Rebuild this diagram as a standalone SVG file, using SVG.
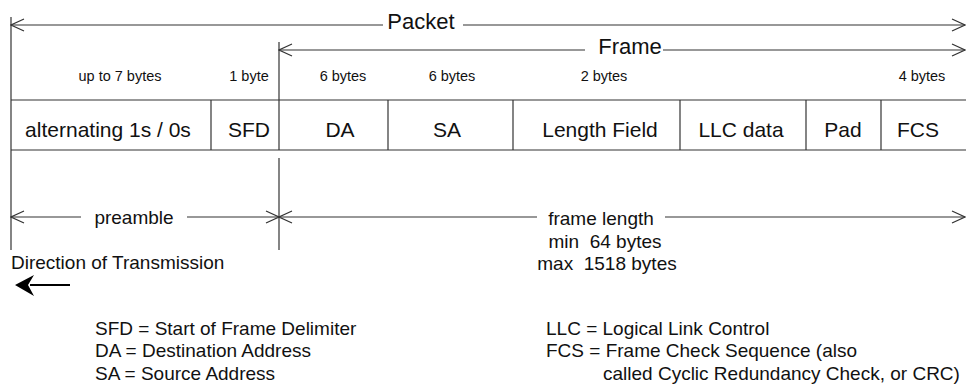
<svg xmlns="http://www.w3.org/2000/svg" width="966" height="385" viewBox="0 0 966 385">
<style>
text{font-family:"Liberation Sans",Arial,sans-serif;fill:#111}
.big{font-size:22px}
.cell{font-size:21px;text-anchor:middle}
.bytes{font-size:14.5px;text-anchor:middle}
.lbl{font-size:19px}
.mid{text-anchor:middle}
.ln{stroke:#333;stroke-width:1.2;fill:none}
.tb{stroke:#333;stroke-width:1.2;fill:none}
</style>
<defs>
<marker id="arr" markerUnits="userSpaceOnUse" viewBox="-15 -7 16 14" refX="0" refY="0" markerWidth="16" markerHeight="14" orient="auto-start-reverse">
<path d="M-13,-6 L0,0 L-13,6" fill="none" stroke="#333" stroke-width="1.2"/>
</marker>
</defs>
<rect width="966" height="385" fill="#fff"/>
<g id="connectors">
<line class="ln" x1="11" y1="25" x2="383" y2="25" marker-start="url(#arr)"/>
<line class="ln" x1="463" y1="25" x2="965" y2="25" marker-end="url(#arr)"/>
<line class="ln" x1="279" y1="50" x2="585" y2="50" marker-start="url(#arr)"/>
<line class="ln" x1="663" y1="50" x2="965" y2="50" marker-end="url(#arr)"/>
<line class="ln" x1="11" y1="217" x2="81" y2="217" marker-start="url(#arr)"/>
<line class="ln" x1="187" y1="217" x2="279" y2="217" marker-end="url(#arr)"/>
<line class="ln" x1="279" y1="217" x2="537" y2="217" marker-start="url(#arr)"/>
<line class="ln" x1="665" y1="217" x2="965" y2="217" marker-end="url(#arr)"/>
<line class="ln" x1="11" y1="17" x2="11" y2="250"/>
<line class="ln" x1="279" y1="42" x2="279" y2="100"/>
<line class="ln" x1="279" y1="158" x2="279" y2="250"/>
<line x1="30" y1="285" x2="70" y2="285" stroke="#000" stroke-width="2"/>
<path d="M15,285 L34,275 L28,285 L34,296 Z" fill="#000"/>
</g>
<g id="titles">
<text class="big mid" x="421" y="29">Packet</text>
<text class="big mid" x="630" y="54">Frame</text>
</g>
<g id="sizes">
<text class="bytes" x="120" y="81">up to 7 bytes</text>
<text class="bytes" x="249" y="81">1 byte</text>
<text class="bytes" x="343" y="81">6 bytes</text>
<text class="bytes" x="452" y="81">6 bytes</text>
<text class="bytes" x="604" y="81">2 bytes</text>
<text class="bytes" x="922" y="81">4 bytes</text>
</g>
<g id="table">
<line class="tb" x1="11" y1="100" x2="966" y2="100"/>
<line class="tb" x1="11" y1="150" x2="966" y2="150"/>
<line class="tb" x1="211" y1="100" x2="211" y2="150"/>
<line class="tb" x1="279" y1="100" x2="279" y2="150"/>
<line class="tb" x1="388" y1="100" x2="388" y2="150"/>
<line class="tb" x1="513" y1="100" x2="513" y2="150"/>
<line class="tb" x1="680" y1="100" x2="680" y2="150"/>
<line class="tb" x1="806" y1="100" x2="806" y2="150"/>
<line class="tb" x1="881" y1="100" x2="881" y2="150"/>
</g>
<g id="preamble-cell"><text class="cell" x="108" y="137">alternating 1s / 0s</text></g>
<g id="sfd-cell"><text class="cell" x="249" y="137">SFD</text></g>
<g id="da-cell"><text class="cell" x="340" y="137">DA</text></g>
<g id="sa-cell"><text class="cell" x="447" y="137">SA</text></g>
<g id="length-cell"><text class="cell" x="600" y="137">Length Field</text></g>
<g id="llc-cell"><text class="cell" x="741" y="137">LLC data</text></g>
<g id="pad-cell"><text class="cell" x="843" y="137">Pad</text></g>
<g id="fcs-cell"><text class="cell" x="918" y="137">FCS</text></g>
<g id="lengths">
<text class="lbl mid" x="134" y="224">preamble</text>
<text class="lbl mid" x="601" y="225">frame length</text>
<text class="lbl mid" x="605" y="248" xml:space="preserve">min  64 bytes</text>
<text class="lbl mid" x="607" y="270" xml:space="preserve">max  1518 bytes</text>
</g>
<g id="direction">
<text class="lbl" x="11" y="269">Direction of Transmission</text>
</g>
<g id="legend">
<text class="lbl" x="95" y="335">SFD = Start of Frame Delimiter</text>
<text class="lbl" x="95" y="357">DA = Destination Address</text>
<text class="lbl" x="95" y="380">SA = Source Address</text>
<text class="lbl" x="546" y="335">LLC = Logical Link Control</text>
<text class="lbl" x="546" y="357">FCS = Frame Check Sequence (also</text>
<text class="lbl" x="603" y="380">called Cyclic Redundancy Check, or CRC)</text>
</g>
</svg>
